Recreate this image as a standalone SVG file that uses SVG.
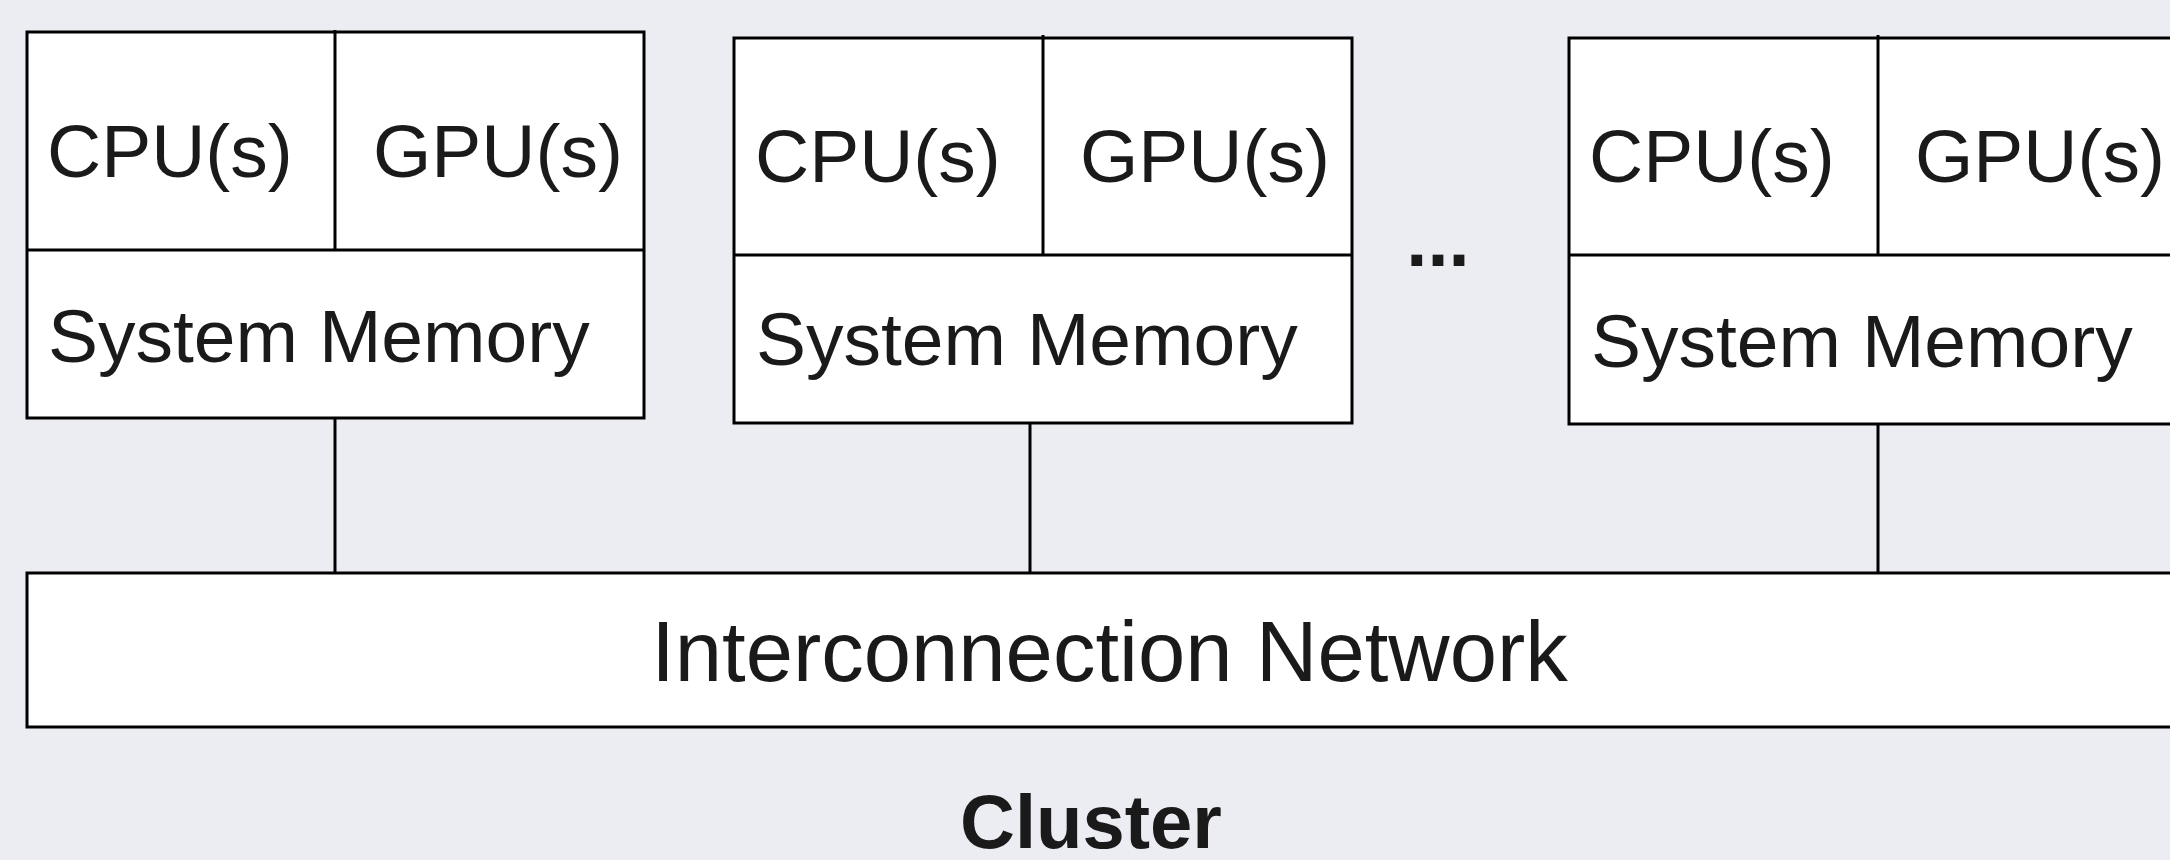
<svg xmlns="http://www.w3.org/2000/svg" width="2170" height="860" viewBox="0 0 2170 860">
<style>
.bg{fill:#ecedf2}
.box{fill:#ffffff;stroke:#000000;stroke-width:3}
.ln{stroke:#000000;stroke-width:3;fill:none}
.t{font-family:"Liberation Sans",Arial,sans-serif;font-size:75px;fill:#1a1a1a}
.big{font-family:"Liberation Sans",Arial,sans-serif;font-size:85px;fill:#1a1a1a}
.title{font-family:"Liberation Sans",Arial,sans-serif;font-size:76px;font-weight:bold;fill:#1a1a1a}
</style>
<rect class="bg" x="0" y="0" width="2170" height="860"/>
<g id="node1">
<rect class="box" x="27" y="32" width="617" height="386"/>
<line class="ln" x1="27" y1="250" x2="644" y2="250"/>
<line class="ln" x1="335" y1="30" x2="335" y2="250"/>
<text class="t" x="47" y="177">CPU(s)</text>
<text class="t" x="373" y="177">GPU(s)</text>
<text class="t" x="48" y="362">System Memory</text>
</g>
<g id="node2">
<rect class="box" x="734" y="38" width="618" height="385"/>
<line class="ln" x1="734" y1="255" x2="1352" y2="255"/>
<line class="ln" x1="1043" y1="35" x2="1043" y2="255"/>
<text class="t" x="755" y="182">CPU(s)</text>
<text class="t" x="1080" y="182">GPU(s)</text>
<text class="t" x="756" y="365">System Memory</text>
</g>
<g id="ellipsis">
<text class="title" x="1438" y="266" text-anchor="middle">...</text>
</g>
<g id="node3">
<rect class="box" x="1569" y="38" width="618" height="386"/>
<line class="ln" x1="1569" y1="255" x2="2187" y2="255"/>
<line class="ln" x1="1878" y1="35" x2="1878" y2="255"/>
<text class="t" x="1589" y="182">CPU(s)</text>
<text class="t" x="1915" y="182">GPU(s)</text>
<text class="t" x="1591" y="367">System Memory</text>
</g>
<g id="network">
<rect class="box" x="27" y="573" width="2165" height="154"/>
<text class="big" x="1109.5" y="681" text-anchor="middle">Interconnection Network</text>
</g>
<g id="connectors">
<line class="ln" x1="335" y1="418" x2="335" y2="573"/>
<line class="ln" x1="1030" y1="423" x2="1030" y2="573"/>
<line class="ln" x1="1878" y1="424" x2="1878" y2="573"/>
</g>
<g id="label">
<text class="title" x="1091" y="848" text-anchor="middle">Cluster</text>
</g>
</svg>
